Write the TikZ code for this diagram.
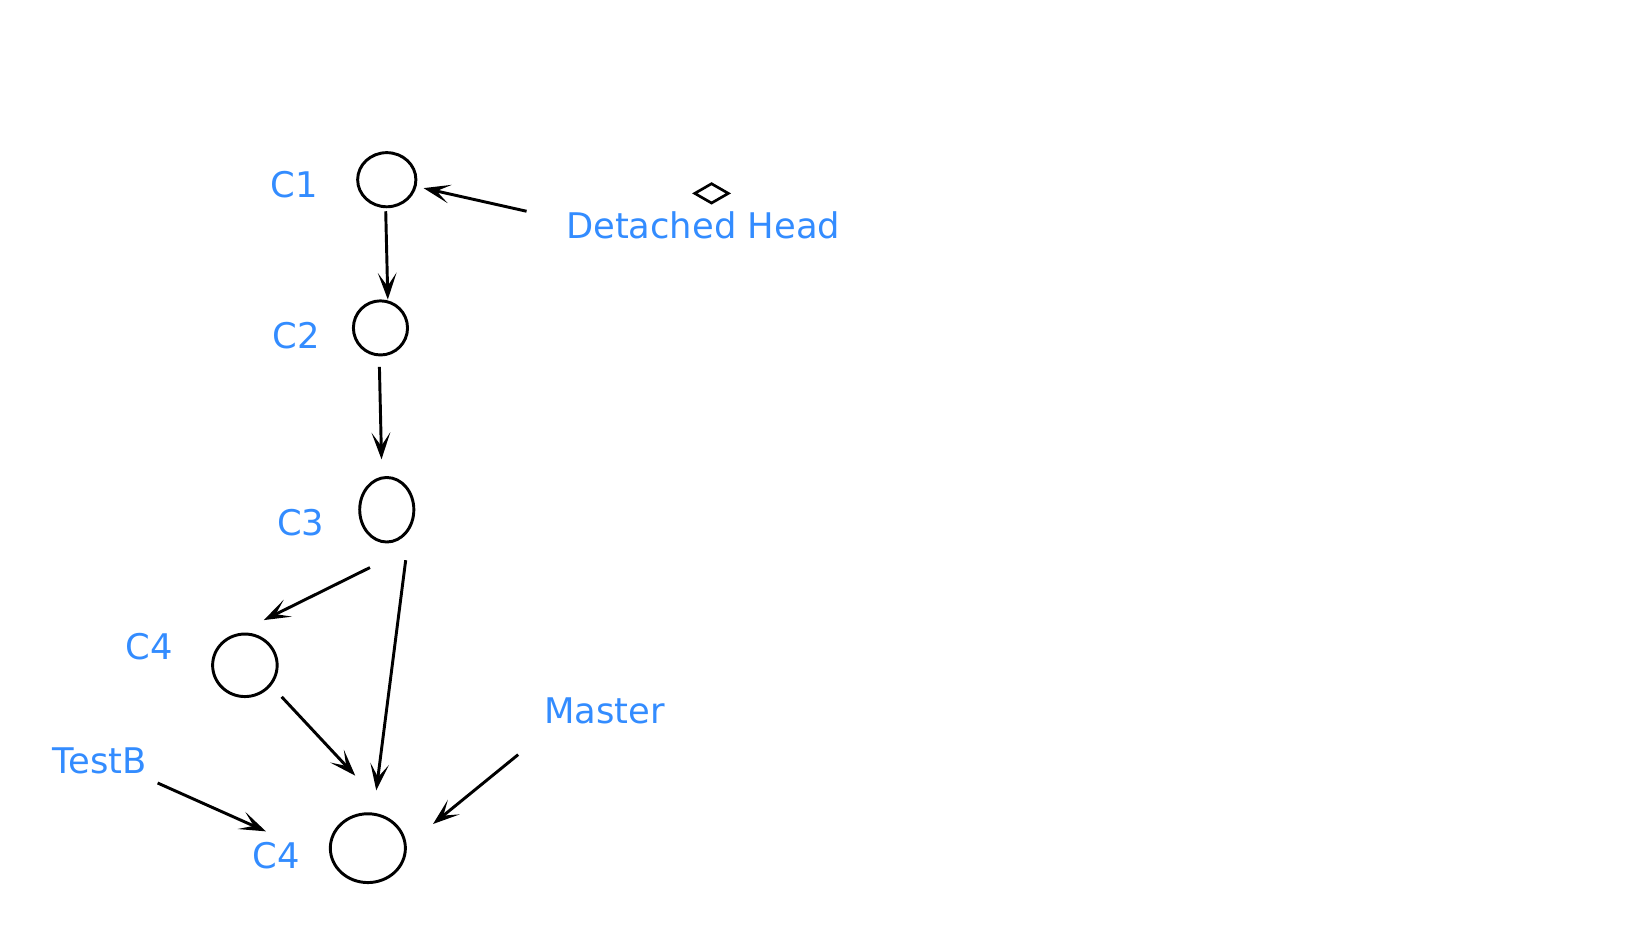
\documentclass[tikz,border=0pt]{standalone}
\usepackage{fontspec}
\setmainfont{DejaVu Sans}
\usetikzlibrary{shapes.geometric,arrows.meta,calc}
\definecolor{labelblue}{RGB}{51,140,255}
\begin{document}
\begin{tikzpicture}[x=0.7883pt,y=-0.7883pt,
    commit/.style={draw,ellipse,line width=2.2pt,inner sep=0pt},
    lbl/.style={text=labelblue,font=\fontsize{26.5}{31}\selectfont,inner sep=0pt},
    arr/.style={-{Stealth[length=20pt,width=14pt,inset=10pt]},line width=2.2pt}]
            \useasboundingbox (0,0) rectangle (1568,882);
            % commits
            \node[commit,minimum width=43.7pt,minimum height=40.6pt] (c1) at (368,171) {};
            \node[commit,minimum width=40.6pt,minimum height=40.6pt] (c2) at (362,312) {};
            \node[commit,minimum width=40.6pt,minimum height=48.4pt] (c3) at (368,485) {};
            \node[commit,minimum width=48.4pt,minimum height=46.9pt] (c4a) at (233,633) {};
            \node[commit,minimum width=56.3pt,minimum height=51.6pt] (c4b) at (350,807) {};
            % labels
            \node[lbl] (l1) at (280,176) {C1};
            \node[lbl] (l2) at (282,319) {C2};
            \node[lbl] (l3) at (286,497) {C3};
            \node[lbl] (l4a) at (142,615) {C4};
            \node[lbl] (l4b) at (263,814) {C4};
            \node[lbl] (head) at (669,214) {Detached Head};
            \node[lbl] (master) at (575,676) {Master};
            \node[lbl] (testb) at (95,724) {TestB};
            \node[draw,diamond,line width=2pt,inner sep=0pt,aspect=1.7,minimum width=26pt,minimum height=15.3pt] (mark) at (677,184) {};
            % arrows
            \draw[arr] ($(c1)+(-1,30)$) -- ($(c2)+(7,-27)$);
            \draw[arr] ($(c2)+(-1,37)$) -- ($(c3)+(-5,-48)$);
            \draw[arr] ($(head)+(-168,-13)$) -- ($(c1)+(35,8)$);
            \draw[arr] ($(c3)+(-16,55)$) -- ($(c4a)+(18,-43)$);
            \draw[arr] ($(c3)+(18,48)$) -- ($(c4b)+(8,-55)$);
            \draw[arr] ($(c4a)+(35,30)$) -- ($(c4b)+(-12,-69)$);
            \draw[arr] ($(testb)+(55,21)$) -- ($(l4b)+(-10,-23)$);
            \draw[arr] ($(master)+(-82,42)$) -- ($(c4b)+(62,-23)$);
        \end{tikzpicture}
\end{document}
